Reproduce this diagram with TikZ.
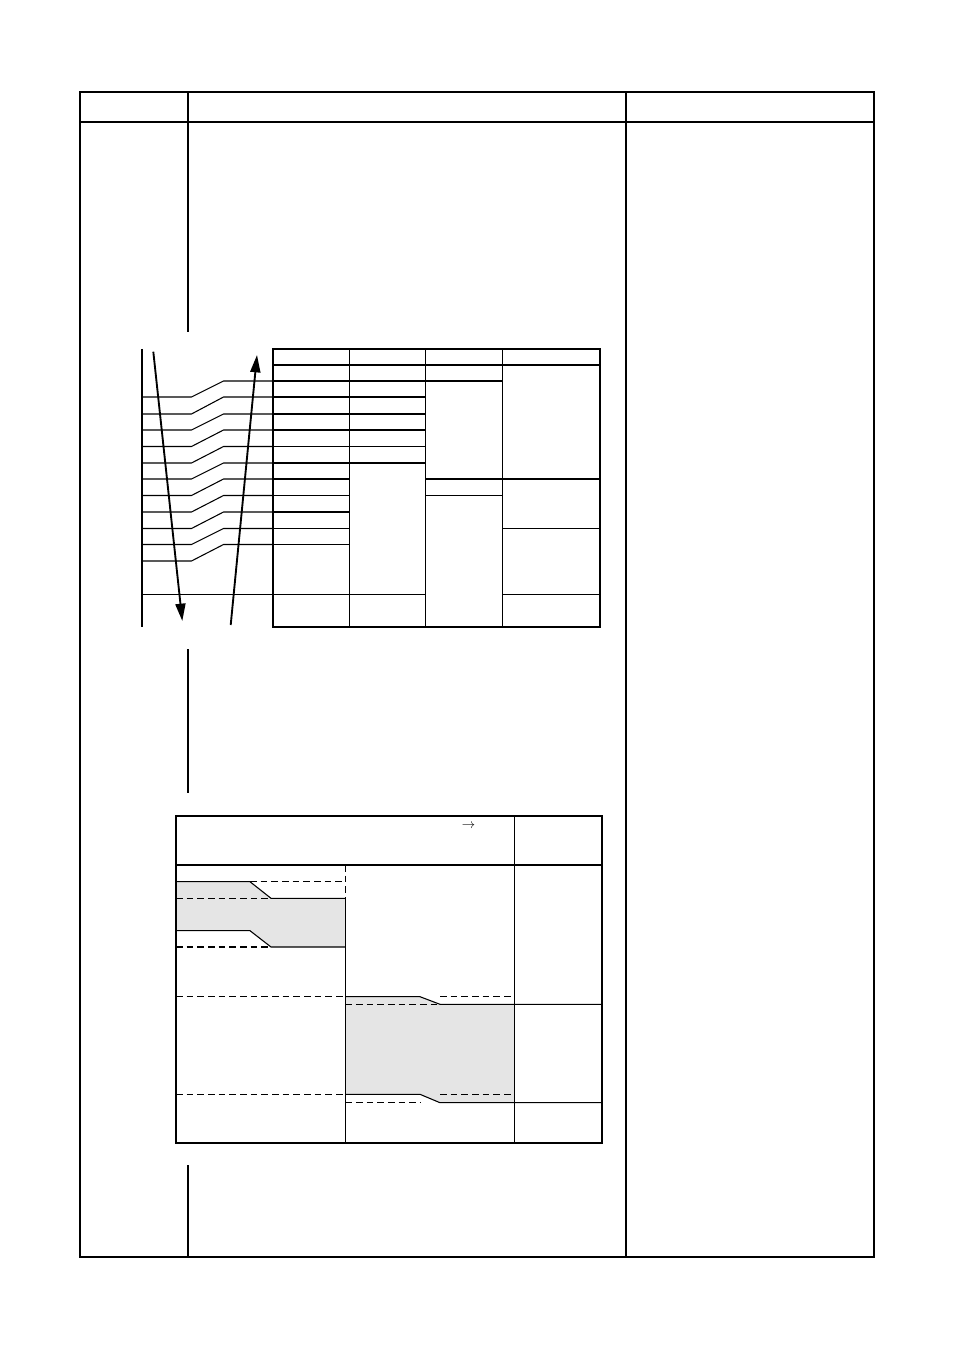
\documentclass[tikz,border=0pt]{standalone}
\usetikzlibrary{arrows.meta}
\tikzset{
  frame/.style={line width=1.5pt},
  thin/.style={line width=0.8pt},
  dsh/.style={line width=0.8pt, dash pattern=on 5pt off 3pt},
  bigarrow/.style={line width=1.4pt, -{Triangle[length=13pt,width=7.5pt]}},
  shade/.style={fill=black!10, draw=none},
}
\begin{document}
\begin{tikzpicture}[x=0.75pt,y=-0.75pt]
\useasboundingbox (0,0) rectangle (954,1351);
% ---- outer page table ----
\draw[frame] (80,92) rectangle (874,1257);
\draw[thin] (80,122) -- (874,122);
\draw[thin] (626,92) -- (626,1257);
\draw[thin] (188,92) -- (188,332);
\draw[thin] (188,649) -- (188,793);
\draw[thin] (188,1165) -- (188,1257);

% ---- top diagram: left bus line and stepped lines ----
\draw[line width=1.2pt] (142,349) -- (142,627);
\foreach \yb/\ya in {381/397, 397/414, 414/430, 430/446.5, 446.5/463, 463/479, 479/495.5, 495.5/512, 512/528.5, 528.5/544.5, 544.5/561}{
  \draw[thin] (142,\ya) -- (191.5,\ya) -- (223.5,\yb) -- (272.7,\yb);
}
\draw[thin] (142,594.5) -- (272.7,594.5);

% arrows
\coordinate (dA) at (153.3,351.7);
\coordinate (dB) at (182.3,621);
\coordinate (uA) at (230.7,625);
\coordinate (uB) at (257,355);
\draw[bigarrow] (dA) -- (dB);
\draw[bigarrow] (uA) -- (uB);

% table
\def\xa{272.7}\def\xb{349.3}\def\xc{425.3}\def\xd{502.3}\def\xe{600}
\draw[thin] (\xb,349) -- (\xb,626.7);
\draw[thin] (\xc,349) -- (\xc,626.7);
\draw[thin] (\xd,349) -- (\xd,626.7);
\draw[thin] (\xa,365) -- (\xe,365);
\draw[thin] (\xa,381) -- (\xd,381);
\foreach \y in {397,414,430,446.5,463}{\draw[thin] (\xa,\y) -- (\xc,\y);}
\draw[thin] (\xa,479) -- (\xb,479);
\draw[thin] (\xc,479) -- (\xe,479);
\draw[thin] (\xa,495.5) -- (\xb,495.5);
\draw[thin] (\xc,495.5) -- (\xd,495.5);
\draw[thin] (\xa,512) -- (\xb,512);
\draw[thin] (\xa,528.5) -- (\xb,528.5);
\draw[thin] (\xd,528.5) -- (\xe,528.5);
\draw[thin] (\xa,544.5) -- (\xb,544.5);
\draw[thin] (\xa,594.5) -- (\xc,594.5);
\draw[thin] (\xd,594.5) -- (\xe,594.5);
\draw[frame] (\xa,349) rectangle (\xe,626.7);

% ---- bottom chart ----
\fill[shade] (176,881.7) -- (250,881.7) -- (271,898.3) -- (345.3,898.3) -- (345.3,947) -- (271,947) -- (250,930.7) -- (176,930.7) -- cycle;
\fill[shade] (345.3,996.7) -- (420,996.7) -- (440,1004.3) -- (514.3,1004.3) -- (514.3,1102.7) -- (440,1102.7) -- (420,1094.3) -- (345.3,1094.3) -- cycle;

\draw[thin] (176,865) -- (602,865);
\draw[thin] (514.3,815.7) -- (514.3,1143.3);
\draw[dsh] (345.3,865) -- (345.3,898.3);
\draw[thin] (345.3,898.3) -- (345.3,1143.3);

% region 1 edges
\draw[thin] (176,881.7) -- (250,881.7) -- (271,898.3) -- (345.3,898.3);
\draw[thin] (176,930.7) -- (250,930.7) -- (271,947) -- (345.3,947);
\draw[dsh] (250,881.7) -- (345.3,881.7);
\draw[dsh] (176,898.3) -- (271,898.3);
\draw[dsh] (176,947) -- (271,947);

% region 2 edges
\draw[dsh] (176,996.7) -- (345.3,996.7);
\draw[thin] (345.3,996.7) -- (420,996.7) -- (440,1004.3) -- (602,1004.3);
\draw[dsh] (440,996.7) -- (514.3,996.7);
\draw[dsh] (345.3,1004.3) -- (440,1004.3);
\draw[dsh] (176,1094.3) -- (345.3,1094.3);
\draw[thin] (345.3,1094.3) -- (420,1094.3) -- (440,1102.7) -- (602,1102.7);
\draw[dsh] (440,1094.3) -- (514.3,1094.3);
\draw[dsh] (345.3,1102.7) -- (420,1102.7);

\draw[frame] (176,815.7) rectangle (602,1143.3);
\node[inner sep=0pt] (arr) at (468.5,826.5) {$\rightarrow$};
\end{tikzpicture}
\end{document}
